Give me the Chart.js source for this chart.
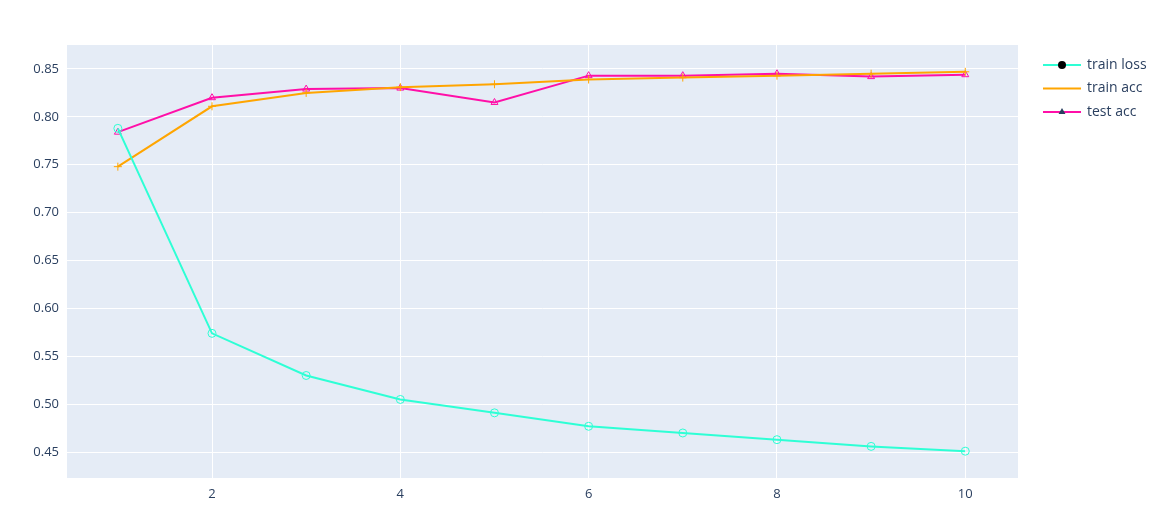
<!DOCTYPE html>
<html>
<head>
<meta charset="utf-8">
<script src="https://cdn.jsdelivr.net/npm/chart.js@4"></script>
<style>
  body { margin: 0; background: #fff; }
  #wrap { width: 1160px; height: 526px; }
</style>
</head>
<body>
<div id="wrap"><canvas id="myChart"></canvas></div>
<script>
const epochs = [1, 2, 3, 4, 5, 6, 7, 8, 9, 10];
const trainLoss = [0.788, 0.574, 0.530, 0.505, 0.491, 0.477, 0.470, 0.463, 0.456, 0.451];
const trainAcc = [0.748, 0.811, 0.825, 0.831, 0.834, 0.839, 0.841, 0.843, 0.845, 0.847];
const testAcc = [0.784, 0.820, 0.829, 0.830, 0.815, 0.843, 0.843, 0.845, 0.842, 0.844];
const xTicks = [2, 4, 6, 8, 10];
const yTicks = [0.45, 0.5, 0.55, 0.6, 0.65, 0.7, 0.75, 0.8, 0.85];

const toPoints = (ys) => epochs.map((x, i) => ({ x, y: ys[i] }));
const font = { family: 'Open Sans', size: 13 };
const textColor = '#2a3f5f';

const series = [
    { label: 'train loss', data: trainLoss, color: '#2effd5', pointStyle: 'circle' },
    { label: 'train acc', data: trainAcc, color: '#ffa500', pointStyle: 'crossRot' },
    { label: 'test acc', data: testAcc, color: '#ff0fa8', pointStyle: 'triangle' },
];

const bgPlugin = {
    id: 'bg',
    beforeDraw(chart) {
        const { ctx, chartArea: a } = chart;
        ctx.save();
        ctx.fillStyle = '#e5ecf6';
        ctx.fillRect(a.left, a.top, a.right - a.left, a.bottom - a.top);
        ctx.restore();
    },
};

const legendPlugin = {
    id: 'plotlyLegend',
    afterDraw(chart) {
        const ctx = chart.ctx;
        ctx.save();
        ctx.font = '14px "Open Sans"';
        ctx.textBaseline = 'middle';
        series.forEach((s, i) => {
            const y = 65 + i * 23.5;
            ctx.strokeStyle = s.color;
            ctx.lineWidth = 2;
            ctx.beginPath();
            ctx.moveTo(1043, y);
            ctx.lineTo(1081, y);
            ctx.stroke();
            ctx.lineWidth = 1;
            Chart.helpers.drawPoint(ctx, { pointStyle: s.pointStyle, radius: 4, rotation: s.pointStyle === 'crossRot' ? 45 : 0 }, 1062, y);
            ctx.fillStyle = textColor;
            ctx.fillText(s.label, 1087, y);
        });
        ctx.restore();
    },
};

new Chart(document.getElementById('myChart'), {
    type: 'line',
    data: {
        datasets: series.map((s) => ({
            label: s.label,
            data: toPoints(s.data),
            borderColor: s.color,
            backgroundColor: 'rgba(0,0,0,0)',
            borderWidth: 2,
            pointStyle: s.pointStyle,
            pointRotation: s.pointStyle === 'crossRot' ? 45 : 0,
            pointRadius: 4,
            pointBorderWidth: 1,
            pointBorderColor: s.color,
            tension: 0,
        })),
    },
    options: {
        responsive: true,
        maintainAspectRatio: false,
        animation: false,
        layout: { padding: { left: 0, right: 142, top: 45, bottom: 0 } },
        plugins: { legend: { display: false }, tooltip: { enabled: false } },
        scales: {
            x: {
                type: 'linear',
                min: 0.46,
                max: 10.56,
                afterBuildTicks: (axis) => { axis.ticks = xTicks.map((v) => ({ value: v })); },
                afterFit: (axis) => { axis.height = 48; },
                grid: { color: '#ffffff', lineWidth: 1, drawTicks: false },
                border: { display: false },
                ticks: { font, color: textColor, padding: 8 },
            },
            y: {
                min: 0.423,
                max: 0.875,
                afterBuildTicks: (axis) => { axis.ticks = yTicks.map((v) => ({ value: v })); },
                afterFit: (axis) => { axis.width = 67; },
                grid: { color: '#ffffff', lineWidth: 1, drawTicks: false },
                border: { display: false },
                ticks: { font, color: textColor, padding: 8 },
            },
        },
    },
    plugins: [bgPlugin, legendPlugin],
});
</script>
</body>
</html>
